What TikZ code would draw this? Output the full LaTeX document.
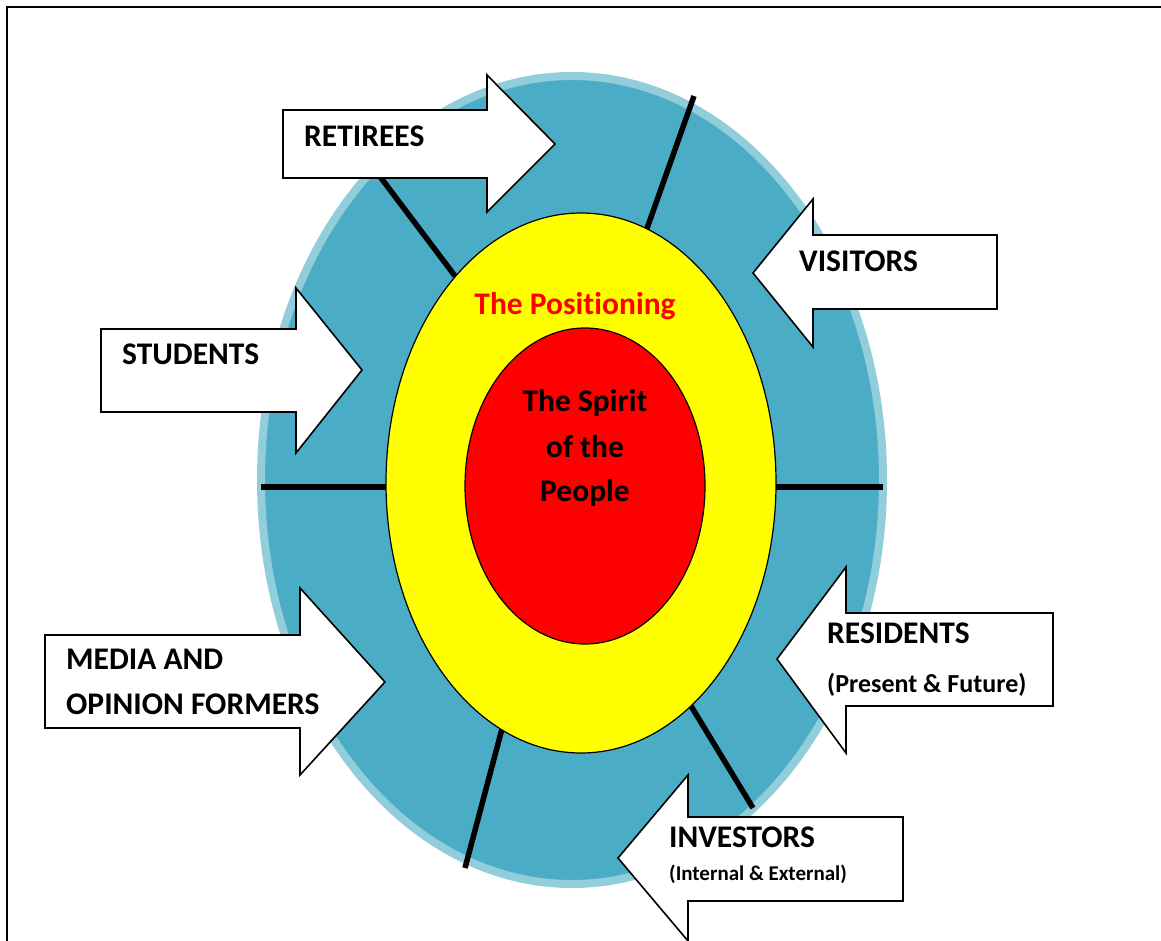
\documentclass[tikz,border=0pt]{standalone}
\usepackage{fontspec}
\setmainfont{Carlito}[Ligatures=NoCommon]
\usepackage{xcolor}
\usepackage{tikz}

\definecolor{ringblue}{HTML}{4BACC6}
\definecolor{ringedge}{HTML}{92CDDC}
\definecolor{brightyellow}{HTML}{FFFF00}
\definecolor{brightred}{HTML}{FF0000}

\tikzset{
    arrowbox/.style={draw=black, line width=1.6pt, fill=white, line join=miter},
    divider/.style={line width=5.5pt},
    grouptext/.style={font=\bfseries\fontsize{31.5}{38}\selectfont, inner sep=0pt, anchor=base west},
    subtext/.style={font=\bfseries\fontsize{#1}{30}\selectfont, inner sep=0pt, anchor=base west},
    coretext/.style={font=\bfseries\fontsize{31.5}{38}\selectfont, inner sep=0pt, anchor=base}
}

\begin{document}
\begin{tikzpicture}[x=1pt, y=-1pt]
            \useasboundingbox (0,0) rectangle (1161,941);
            \draw[line width=2pt] (7,941) -- (7,7) -- (1161,7); % frame

            % rings
            \draw[ringedge, line width=8pt, fill=ringblue] (572,480) ellipse [x radius=311, y radius=404];
            \draw[divider] (372,166) -- (455,276); % retirees-students
            \draw[divider] (694,96) -- (645,234); % retirees-visitors
            \draw[divider] (261,487) -- (388,487); % students-media
            \draw[divider] (773,487) -- (883,487); % visitors-residents
            \draw[divider] (503,725) -- (465,868); % media-investors
            \draw[divider] (691,706) -- (753,808); % residents-investors
            \draw[line width=1.2pt, fill=brightyellow] (581,483) ellipse [x radius=195, y radius=270];
            \draw[line width=1.2pt, fill=brightred] (585,486) ellipse [x radius=120, y radius=158];

            \node[coretext, text=brightred] (positioning) at (575,314) {The Positioning};
            \node[coretext] (spirit1) at (585,411) {The Spirit};
            \node[coretext] (spirit2) at (585,457) {of the};
            \node[coretext] (spirit3) at (585,501) {People};

            % arrows pointing in
            \draw[arrowbox] (283,110) -- (487,110) -- (487,75) -- (555,144) -- (487,212) -- (487,178) -- (283,178) -- cycle; % retirees
            \draw[arrowbox] (101,329) -- (296,329) -- (296,288) -- (362,370) -- (296,453) -- (296,412) -- (101,412) -- cycle; % students
            \draw[arrowbox] (45,635) -- (300,635) -- (300,588) -- (385,682) -- (300,775) -- (300,728) -- (45,728) -- cycle; % media
            \draw[arrowbox] (997,235) -- (813,235) -- (813,199) -- (753,273) -- (813,347) -- (813,309) -- (997,309) -- cycle; % visitors
            \draw[arrowbox] (1053,613) -- (846,613) -- (846,567) -- (777,659) -- (846,753) -- (846,706) -- (1053,706) -- cycle; % residents
            \draw[arrowbox] (903,817) -- (688,817) -- (688,775) -- (618,858) -- (688,941) -- (688,901) -- (903,901) -- cycle; % investors

            \node[grouptext] (retirees) at (304,147) {RETIREES};
            \node[grouptext] (students) at (122,364) {STUDENTS};
            \node[grouptext] (media1) at (66,669) {MEDIA AND};
            \node[grouptext] (media2) at (66,714) {OPINION FORMERS};
            \node[grouptext] (visitors) at (799,271) {VISITORS};
            \node[grouptext] (residents) at (827,643) {RESIDENTS};
            \node[subtext=26] (residentsub) at (827,692) {(Present \& Future)};
            \node[grouptext] (investors) at (669,847) {INVESTORS};
            \node[subtext=21] (investorsub) at (669,880) {(Internal \& External)};
        \end{tikzpicture}
\end{document}
